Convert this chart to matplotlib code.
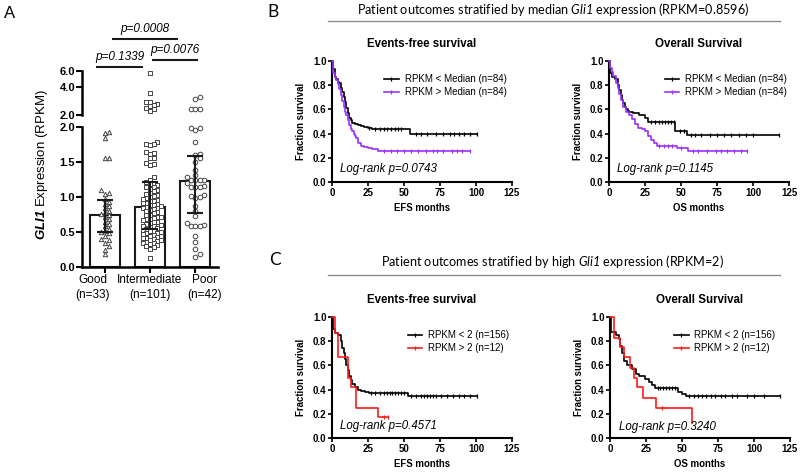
import numpy as np
import matplotlib
matplotlib.use('Agg')
import matplotlib.pyplot as plt
from matplotlib.lines import Line2D
from matplotlib.ticker import NullLocator
from matplotlib.transforms import blended_transform_factory

plt.rcParams['font.family'] = ['Liberation Sans', 'DejaVu Sans']
plt.rcParams['mathtext.fontset'] = 'custom'
plt.rcParams['mathtext.it'] = 'Lato:italic'
plt.rcParams['mathtext.rm'] = 'Lato:italic'
plt.rcParams['mathtext.bfit'] = 'Liberation Sans:bold:italic'
plt.rcParams['mathtext.bf'] = 'Liberation Sans:bold:italic'

# ---------------- panel A data ----------------
group_labels = ['Good\n(n=33)', 'Intermediate\n(n=101)', 'Poor\n(n=42)']
good_vals = [1.93, 1.91, 1.84, 1.55, 1.55, 1.10, 1.06, 1.05, 0.97, 0.93, 0.90,
             0.87, 0.84, 0.80, 0.78, 0.76, 0.74, 0.71, 0.68, 0.65, 0.62, 0.58,
             0.55, 0.52, 0.50, 0.48, 0.45, 0.40, 0.38, 0.35, 0.30, 0.25, 0.18]
inter_vals = [5.7, 3.5, 2.8, 2.78, 2.62, 2.58, 2.5, 2.4, 2.3, 2.2,
              1.78, 1.76, 1.75, 1.74, 1.65, 1.63, 1.62, 1.56, 1.55, 1.48, 1.47, 1.46,
              1.29, 1.24, 1.22,
              1.20, 1.18, 1.17, 1.15, 1.14, 1.12, 1.10, 1.08, 1.06, 1.05, 1.03, 1.01,
              1.00, 0.98, 0.97, 0.96, 0.95, 0.94, 0.92, 0.91, 0.90, 0.89, 0.88, 0.87, 0.86,
              0.85, 0.84, 0.83, 0.82, 0.80, 0.78, 0.77, 0.75, 0.74, 0.72, 0.71, 0.70,
              0.69, 0.68, 0.67, 0.65, 0.64, 0.63, 0.62, 0.60, 0.59, 0.58, 0.57, 0.56, 0.55,
              0.53, 0.52, 0.51, 0.50, 0.49, 0.48, 0.47, 0.46, 0.45, 0.44, 0.43, 0.42,
              0.41, 0.40, 0.39, 0.38, 0.37, 0.36, 0.35, 0.34, 0.33, 0.31, 0.30, 0.28,
              0.26, 0.13]
poor_vals = [3.1, 2.95, 2.35, 2.32, 2.30, 1.99, 1.98, 1.96, 1.78, 1.62, 1.60,
             1.55, 1.50, 1.39, 1.31, 1.28, 1.25, 1.25, 1.24, 1.24, 1.20, 1.16,
             1.15, 1.14, 1.14, 1.03, 1.01, 1.00, 0.98, 0.87, 0.80, 0.73, 0.63,
             0.60, 0.59, 0.58, 0.58, 0.45, 0.36, 0.26, 0.19, 0.14]
bar_median = [0.74, 0.86, 1.23]
bar_q1 = [0.50, 0.55, 0.77]
bar_q3 = [0.96, 1.21, 1.58]
p_texts = ['p=0.1339', 'p=0.0076', 'p=0.0008']

# ---------------- KM data (step times / survival after step) ----------------
b_efs_lo_t = [0, 1, 2, 3, 4, 5, 6, 7, 8, 9, 10, 11, 12, 13, 14, 16, 18, 20, 22, 25, 28, 54]
b_efs_lo_s = [1.0, 0.93, 0.87, 0.85, 0.83, 0.82, 0.78, 0.74, 0.70, 0.66, 0.61, 0.57,
              0.53, 0.51, 0.49, 0.48, 0.47, 0.46, 0.455, 0.45, 0.44, 0.40]
b_efs_lo_c = [26, 30, 33, 36, 38, 41, 44, 46, 48, 58, 62, 66, 72, 77, 82, 85, 88, 92, 96, 101]
b_efs_hi_t = [0, 1, 2, 3, 4, 5, 6, 7, 8, 9, 10, 11, 12, 13, 14, 15, 16, 17, 18, 20, 22, 25, 28, 32]
b_efs_hi_s = [1.0, 0.90, 0.87, 0.84, 0.81, 0.77, 0.72, 0.67, 0.62, 0.58, 0.55, 0.51,
              0.47, 0.44, 0.42, 0.40, 0.38, 0.36, 0.32, 0.30, 0.29, 0.28, 0.27, 0.26]
b_efs_hi_c = [36, 41, 45, 50, 55, 60, 65, 70, 73, 77, 83, 87, 90, 96]

b_os_lo_t = [0, 1, 2, 4, 6, 7, 8, 9, 10, 11, 12, 13, 14, 17, 21, 25, 27, 46, 54]
b_os_lo_s = [1.0, 0.90, 0.87, 0.85, 0.80, 0.76, 0.72, 0.68, 0.65, 0.62, 0.60, 0.59,
             0.58, 0.57, 0.555, 0.53, 0.50, 0.42, 0.39]
b_os_lo_c = [29, 32, 35, 37, 39, 41, 43, 45, 49, 52, 57, 60, 64, 70, 75, 80, 85, 90, 95, 100, 118]
b_os_hi_t = [0, 1, 2, 3, 5, 6, 7, 8, 10, 12, 14, 16, 18, 20, 23, 25, 27, 29, 31, 33, 47, 55]
b_os_hi_s = [1.0, 0.94, 0.91, 0.88, 0.82, 0.78, 0.73, 0.68, 0.62, 0.58, 0.55, 0.52,
             0.48, 0.45, 0.44, 0.42, 0.38, 0.35, 0.32, 0.30, 0.28, 0.26]
b_os_hi_c = [35, 38, 41, 44, 50, 58, 62, 68, 74, 78, 82, 87, 92, 96]

c_efs_lo_t = [0, 1, 2, 4, 6, 7, 8, 9, 10, 11, 12, 13, 14, 16, 18, 20, 23, 26, 53]
c_efs_lo_s = [1.0, 0.90, 0.87, 0.85, 0.80, 0.74, 0.70, 0.65, 0.60, 0.56, 0.51, 0.48,
              0.45, 0.42, 0.40, 0.39, 0.38, 0.37, 0.35]
c_efs_lo_c = [27, 30, 33, 36, 38, 40, 42, 44, 46, 48, 50, 55, 58, 62, 64, 66, 68, 70,
              72, 76, 80, 84, 88, 92, 96, 101]
c_efs_hi_t = [0, 2, 4.5, 11, 13, 17, 32]
c_efs_hi_s = [1.0, 0.87, 0.67, 0.50, 0.42, 0.25, 0.17]
c_efs_hi_c = [36, 39]

c_os_lo_t = [0, 1, 4, 6, 7, 8, 10, 12, 15, 18, 20, 24, 27, 29, 31, 47, 50, 53]
c_os_lo_s = [1.0, 0.88, 0.85, 0.82, 0.76, 0.70, 0.64, 0.60, 0.57, 0.53, 0.51, 0.49,
             0.46, 0.44, 0.41, 0.38, 0.36, 0.345]
c_os_lo_c = [33, 35, 37, 39, 41, 43, 45, 55, 58, 61, 64, 67, 70, 73, 77, 80, 85, 88,
             95, 100, 107, 118]
c_os_hi_t = [0, 3, 7, 9.5, 14, 17, 18.5, 23, 32, 57]
c_os_hi_s = [1.0, 0.83, 0.75, 0.67, 0.58, 0.50, 0.42, 0.33, 0.25, 0.125]
c_os_hi_c = [36]

legend_b = ['RPKM < Median (n=84)', 'RPKM > Median (n=84)']
legend_c = ['RPKM < 2 (n=156)', 'RPKM > 2 (n=12)']
purple = '#9B30FF'
red = '#FF1A1A'

W, H = 800, 472
fig = plt.figure(figsize=(8, 4.72), dpi=100)


def add_ax(x0, y0, x1, y1):
    return fig.add_axes([x0 / W, 1 - y1 / H, (x1 - x0) / W, (y1 - y0) / H])


def swarm(ax, xc, vals, d):
    # simple beeswarm in pixel space
    order = np.argsort(vals)
    pts = ax.transData.transform(np.column_stack([np.full(len(vals), xc), vals]))
    placed = []
    xs = np.zeros(len(vals))
    for i in order:
        px, py = pts[i]
        k = 0
        while True:
            off = ((k + 1) // 2) * d * (1 if k % 2 else -1) if k else 0.0
            ok = all((px + off - qx) ** 2 + (py - qy) ** 2 >= d * d for qx, qy in placed)
            if ok:
                break
            k += 1
        placed.append((px + off, py))
        xs[i] = ax.transData.inverted().transform((px + off, py))[0]
    return xs


# ---------------- panel A ----------------
ax_lo = add_ax(82, 127, 218, 267)
ax_hi = add_ax(82, 71, 218, 115)
xpos = np.arange(3)
for ax in (ax_lo, ax_hi):
    ax.set_xlim(-0.5, 2.5)
    for s in ('top', 'right'):
        ax.spines[s].set_visible(False)
    ax.spines['left'].set_linewidth(1.8)
    ax.tick_params(axis='y', length=4, width=1.5, labelsize=8, pad=1)
ax_lo.set_ylim(0, 2.0)
ax_lo.set_yticks([0, 0.5, 1.0, 1.5, 2.0])
ax_lo.set_yticklabels(['0.0', '0.5', '1.0', '1.5', '2.0'], fontweight='bold')
ax_lo.spines['bottom'].set_linewidth(1.8)
ax_lo.set_xticks(xpos)
ax_lo.set_xticklabels([])
ax_lo.tick_params(axis='x', length=4, width=1.5, pad=2)
# Prism nudges the outer category labels apart
label_shift = [-0.27, 0.0, 0.2]
lab_trans = blended_transform_factory(ax_lo.transData, ax_lo.transAxes)
for xp, lab, sh in zip(xpos, group_labels, label_shift):
    ax_lo.text(xp + sh, -0.147, lab, transform=lab_trans, ha='center', va='center',
               fontsize=8.5, linespacing=1.25, multialignment='center')

ax_hi.set_yscale('log')
ax_hi.set_ylim(2, 6)
ax_hi.set_yticks([2, 4, 6])
ax_hi.set_yticklabels(['2.0', '4.0', '6.0'], fontweight='bold')
ax_hi.yaxis.set_minor_locator(NullLocator())
ax_hi.spines['bottom'].set_visible(False)
ax_hi.set_xticks([])
ax_hi.patch.set_alpha(0)

ax_lo.bar(xpos, bar_median, width=0.66, facecolor='white', edgecolor='#1a1a1a',
          linewidth=1.5, zorder=1)
med = np.array(bar_median)
ax_lo.errorbar(xpos, med, yerr=[med - np.array(bar_q1), np.array(bar_q3) - med],
               fmt='none', ecolor='#1a1a1a', elinewidth=1.5, capsize=6, capthick=1.5,
               zorder=3)

markers = ['^', 's', 'o']
sizes = [10, 7, 11]
spacing = [3.9, 3.6, 4.3]
for gi, vals in enumerate([good_vals, inter_vals, poor_vals]):
    vals = np.array(vals)
    low = vals[vals <= 2.0]
    high = vals[vals > 2.0]
    for ax, v in ((ax_lo, low), (ax_hi, high)):
        if len(v) == 0:
            continue
        xs = swarm(ax, gi, v, spacing[gi])
        ax.scatter(xs, v, marker=markers[gi], s=sizes[gi], facecolor='white',
                   edgecolor='#444444', linewidths=0.7, zorder=2, clip_on=False)

trans = blended_transform_factory(ax_hi.transData, ax_hi.transAxes)
brackets = [(-0.17, 0.82, 1.09), (1.07, 2.04, 1.25), (0.185, 1.6, 1.727)]
for (x0, x1, yf), txt in zip(brackets, p_texts):
    ax_hi.add_line(Line2D([x0, x1], [yf, yf], transform=trans, color='#1a1a1a',
                          lw=1.5, clip_on=False))
    ax_hi.text((x0 + x1) / 2, yf + 0.22, txt, transform=trans, ha='center',
               va='center', fontsize=8.5, fontstyle='italic', clip_on=False)

fig.text(42 / W, 1 - 165 / H, r'$\mathbfit{GLI1}$ Expression (RPKM)', rotation=90,
         ha='center', va='center', fontsize=9.5)
fig.text(10 / W, 1 - 13 / H, 'A', ha='center', va='center', fontsize=12)


# ---------------- panels B and C ----------------
def km(ax, t, s, t_end, cens, color):
    tt = list(t) + [t_end]
    ss = list(s) + [s[-1]]
    ax.step(tt, ss, where='post', color=color, lw=1.2, clip_on=False, zorder=3)
    t_arr = np.array(t)
    cy = [s[np.searchsorted(t_arr, c, side='right') - 1] for c in cens]
    ax.plot(cens, cy, ls='none', marker='|', ms=3.2, mew=0.9, color=color,
            clip_on=False, zorder=3)


def km_axes(box, title, xlabel, curves, colors, labels, leg_xy, p_text, p_xy):
    ax = add_ax(*box)
    ax.set_xlim(0, 125)
    ax.set_ylim(0, 1.0)
    ax.set_xticks([0, 25, 50, 75, 100, 125])
    ax.set_yticks([0, 0.2, 0.4, 0.6, 0.8, 1.0])
    ax.set_yticklabels(['0.0', '0.2', '0.4', '0.6', '0.8', '1.0'], fontweight='bold')
    ax.set_xticklabels(['0', '25', '50', '75', '100', '125'], fontweight='bold')
    for s in ('top', 'right'):
        ax.spines[s].set_visible(False)
    for s in ('left', 'bottom'):
        ax.spines[s].set_linewidth(1.5)
    ax.tick_params(length=3, width=1.2, labelsize=7, pad=1)
    handles = []
    for (t, s, t_end, cens), col in zip(curves, colors):
        km(ax, t, s, t_end, cens, col)
        handles.append(Line2D([], [], color=col, lw=1.2, marker='|', ms=3.2, mew=0.9))
    ax.legend(handles, labels, loc='upper left', bbox_to_anchor=leg_xy, frameon=False,
              fontsize=7, handlelength=1.5, handletextpad=0.6, borderaxespad=0,
              borderpad=0, labelspacing=0.3, numpoints=1)
    ax.text(0.5, 1.14, title, transform=ax.transAxes, ha='center', va='center',
            fontsize=8.3, fontweight='bold')
    ax.text(0.5, -0.215, xlabel, transform=ax.transAxes, ha='center', va='center',
            fontsize=6.9, fontweight='bold')
    ax.text(-0.172, 0.5, 'Fraction survival', transform=ax.transAxes, rotation=90,
            ha='center', va='center', fontsize=6.9, fontweight='bold')
    ax.text(p_xy[0], p_xy[1], p_text, transform=ax.transAxes, ha='left', va='center',
            fontsize=8.3, fontstyle='italic')
    return ax


km_axes((332, 61, 512, 182), 'Events-free survival', 'EFS months',
        [(b_efs_lo_t, b_efs_lo_s, 101, b_efs_lo_c), (b_efs_hi_t, b_efs_hi_s, 96, b_efs_hi_c)],
        ['black', purple], legend_b, (0.29, 0.89), 'Log-rank p=0.0743', (0.044, 0.107))
km_axes((609, 61, 789, 182), 'Overall Survival', 'OS months',
        [(b_os_lo_t, b_os_lo_s, 118, b_os_lo_c), (b_os_hi_t, b_os_hi_s, 96, b_os_hi_c)],
        ['black', purple], legend_b, (0.31, 0.89), 'Log-rank p=0.1145', (0.044, 0.107))
km_axes((332, 317, 512, 438), 'Events-free survival', 'EFS months',
        [(c_efs_lo_t, c_efs_lo_s, 101, c_efs_lo_c), (c_efs_hi_t, c_efs_hi_s, 39, c_efs_hi_c)],
        ['black', red], legend_c, (0.42, 0.89), 'Log-rank p=0.4571', (0.044, 0.10))
km_axes((610, 317, 790, 438), 'Overall Survival', 'OS months',
        [(c_os_lo_t, c_os_lo_s, 118, c_os_lo_c), (c_os_hi_t, c_os_hi_s, 57, c_os_hi_c)],
        ['black', red], legend_c, (0.356, 0.89), 'Log-rank p=0.3240', (0.05, 0.09))

# section headers
for y_txt, y_line, txt, letter, lx, ly in [
        (10, 21, r'Patient outcomes stratified by median $\mathit{Gli1}$ expression (RPKM=0.8596)',
         'B', 273, 12),
        (262, 275, r'Patient outcomes stratified by high $\mathit{Gli1}$ expression (RPKM=2)',
         'C', 275, 260)]:
    fig.text(553 / W, 1 - y_txt / H, txt, ha='center', va='center', fontsize=9.1,
             family=['Lato', 'DejaVu Sans'])
    fig.add_artist(Line2D([328 / W, 780 / W], [1 - y_line / H, 1 - y_line / H],
                          transform=fig.transFigure, color='#8c8c8c', lw=1))
    fig.text(lx / W, 1 - ly / H, letter, ha='center', va='center', fontsize=12.5,
             family=['Lato', 'DejaVu Sans'])

fig.savefig('out.png', dpi=100)
